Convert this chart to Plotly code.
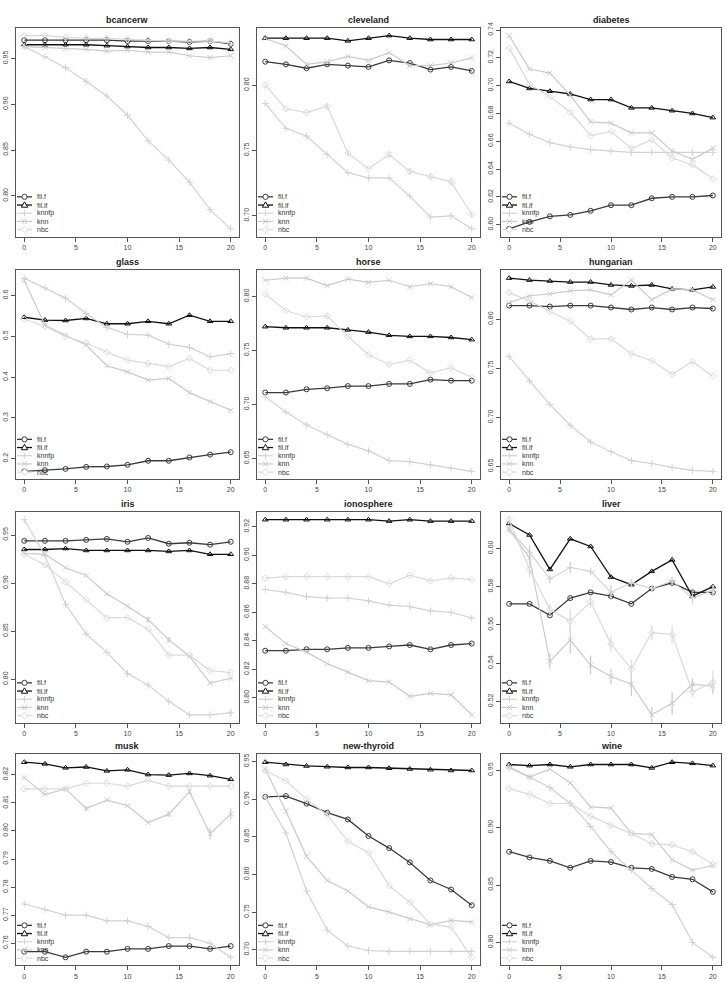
import plotly.graph_objects as go

W, H = 727, 983
x_vals = [0, 2, 4, 6, 8, 10, 12, 14, 16, 18, 20]
x_ticks = [0, 5, 10, 15, 20]
datasets = ["bcancerw", "cleveland", "diabetes", "glass", "horse", "hungarian",
            "iris", "ionosphere", "liver", "musk", "new-thyroid", "wine"]
series_names = ["fil.f", "fil.if", "knnfp", "knn", "nbc"]

fil_f = {
    "bcancerw": [0.970, 0.970, 0.970, 0.970, 0.970, 0.969, 0.969, 0.969, 0.968, 0.969, 0.966],
    "cleveland": [0.818, 0.816, 0.813, 0.816, 0.815, 0.814, 0.819, 0.817, 0.812, 0.814, 0.811],
    "diabetes": [0.597, 0.602, 0.606, 0.607, 0.610, 0.614, 0.614, 0.619, 0.620, 0.620, 0.621],
    "glass": [0.169, 0.172, 0.175, 0.180, 0.181, 0.185, 0.195, 0.195, 0.203, 0.210, 0.216],
    "horse": [0.711, 0.711, 0.714, 0.715, 0.717, 0.717, 0.719, 0.719, 0.723, 0.722, 0.722],
    "hungarian": [0.814, 0.814, 0.813, 0.814, 0.814, 0.812, 0.810, 0.812, 0.810, 0.812, 0.811],
    "iris": [0.944, 0.944, 0.944, 0.945, 0.946, 0.943, 0.947, 0.941, 0.942, 0.940, 0.943],
    "ionosphere": [0.833, 0.833, 0.834, 0.834, 0.835, 0.835, 0.836, 0.837, 0.834, 0.837, 0.838],
    "liver": [0.571, 0.571, 0.565, 0.574, 0.577, 0.575, 0.571, 0.579, 0.582, 0.577, 0.577],
    "musk": [0.757, 0.757, 0.755, 0.757, 0.757, 0.758, 0.758, 0.759, 0.759, 0.758, 0.759],
    "new-thyroid": [0.903, 0.904, 0.894, 0.882, 0.873, 0.851, 0.835, 0.816, 0.792, 0.780, 0.759],
    "wine": [0.879, 0.874, 0.871, 0.865, 0.871, 0.870, 0.865, 0.864, 0.857, 0.855, 0.844],
}
fil_if = {
    "bcancerw": [0.965, 0.965, 0.965, 0.965, 0.964, 0.963, 0.962, 0.962, 0.961, 0.962, 0.960],
    "cleveland": [0.836, 0.836, 0.836, 0.836, 0.834, 0.836, 0.838, 0.836, 0.835, 0.835, 0.835],
    "diabetes": [0.703, 0.698, 0.696, 0.694, 0.690, 0.690, 0.684, 0.684, 0.682, 0.680, 0.677],
    "glass": [0.547, 0.540, 0.539, 0.544, 0.531, 0.531, 0.537, 0.531, 0.552, 0.537, 0.537],
    "horse": [0.772, 0.771, 0.771, 0.771, 0.769, 0.767, 0.764, 0.763, 0.763, 0.762, 0.760],
    "hungarian": [0.842, 0.840, 0.839, 0.838, 0.838, 0.835, 0.834, 0.835, 0.831, 0.830, 0.833],
    "iris": [0.935, 0.935, 0.936, 0.934, 0.934, 0.934, 0.934, 0.933, 0.934, 0.930, 0.930],
    "ionosphere": [0.925, 0.925, 0.925, 0.925, 0.925, 0.925, 0.924, 0.925, 0.924, 0.924, 0.924],
    "liver": [0.613, 0.607, 0.589, 0.605, 0.601, 0.585, 0.581, 0.588, 0.594, 0.575, 0.580],
    "musk": [0.8245, 0.8239, 0.8225, 0.8228, 0.8214, 0.8218, 0.8201, 0.8199, 0.8205, 0.8197, 0.8184],
    "new-thyroid": [0.949, 0.946, 0.944, 0.943, 0.942, 0.942, 0.941, 0.940, 0.939, 0.938, 0.938],
    "wine": [0.955, 0.954, 0.955, 0.953, 0.955, 0.955, 0.955, 0.952, 0.957, 0.956, 0.954],
}
knnfp = {
    "bcancerw": [0.963, 0.952, 0.940, 0.925, 0.909, 0.888, 0.860, 0.839, 0.815, 0.785, 0.764],
    "cleveland": [0.786, 0.767, 0.761, 0.747, 0.733, 0.729, 0.729, 0.715, 0.699, 0.700, 0.690],
    "diabetes": [0.673, 0.665, 0.659, 0.656, 0.654, 0.653, 0.652, 0.652, 0.652, 0.652, 0.652],
    "glass": [0.643, 0.619, 0.594, 0.556, 0.522, 0.505, 0.503, 0.481, 0.473, 0.450, 0.458],
    "horse": [0.707, 0.693, 0.681, 0.672, 0.663, 0.657, 0.648, 0.647, 0.644, 0.641, 0.638],
    "hungarian": [0.762, 0.737, 0.713, 0.692, 0.675, 0.665, 0.656, 0.653, 0.649, 0.646, 0.645],
    "iris": [0.966, 0.929, 0.878, 0.847, 0.828, 0.806, 0.794, 0.777, 0.763, 0.763, 0.765],
    "ionosphere": [0.876, 0.874, 0.871, 0.870, 0.870, 0.868, 0.865, 0.864, 0.861, 0.860, 0.856],
    "liver": [0.610, 0.598, 0.584, 0.590, 0.588, 0.577, 0.582, 0.579, 0.583, 0.574, 0.578],
    "musk": [0.774, 0.772, 0.770, 0.770, 0.768, 0.768, 0.766, 0.762, 0.762, 0.760, 0.755],
    "new-thyroid": [0.903, 0.855, 0.778, 0.726, 0.705, 0.699, 0.698, 0.698, 0.698, 0.698, 0.698],
    "wine": [0.952, 0.944, 0.935, 0.921, 0.901, 0.879, 0.863, 0.847, 0.833, 0.800, 0.787],
}
knn = {
    "bcancerw": [0.963, 0.962, 0.961, 0.960, 0.958, 0.959, 0.957, 0.957, 0.953, 0.951, 0.953],
    "cleveland": [0.836, 0.830, 0.816, 0.818, 0.822, 0.819, 0.825, 0.815, 0.815, 0.817, 0.821],
    "diabetes": [0.736, 0.712, 0.709, 0.693, 0.674, 0.673, 0.666, 0.666, 0.653, 0.647, 0.655],
    "glass": [0.637, 0.528, 0.502, 0.479, 0.428, 0.413, 0.393, 0.397, 0.362, 0.340, 0.319],
    "horse": [0.815, 0.817, 0.817, 0.810, 0.816, 0.813, 0.815, 0.809, 0.812, 0.809, 0.799],
    "hungarian": [0.817, 0.824, 0.826, 0.829, 0.830, 0.825, 0.840, 0.820, 0.831, 0.830, 0.820],
    "iris": [0.931, 0.930, 0.916, 0.908, 0.889, 0.876, 0.862, 0.841, 0.824, 0.796, 0.801],
    "ionosphere": [0.850, 0.838, 0.832, 0.824, 0.818, 0.812, 0.811, 0.801, 0.803, 0.802, 0.788],
    "liver": [0.610, 0.595, 0.541, 0.552, 0.539, 0.533, 0.529, 0.513, 0.519, 0.529, 0.528],
    "musk": [0.819, 0.813, 0.815, 0.808, 0.811, 0.809, 0.803, 0.806, 0.814, 0.799, 0.806],
    "new-thyroid": [0.940, 0.884, 0.824, 0.792, 0.778, 0.757, 0.750, 0.741, 0.733, 0.739, 0.737],
    "wine": [0.953, 0.944, 0.951, 0.939, 0.918, 0.917, 0.895, 0.894, 0.872, 0.863, 0.867],
}
nbc = {
    "bcancerw": [0.975, 0.975, 0.973, 0.972, 0.972, 0.971, 0.970, 0.969, 0.969, 0.969, 0.967],
    "cleveland": [0.800, 0.782, 0.779, 0.784, 0.748, 0.736, 0.747, 0.734, 0.730, 0.726, 0.701],
    "diabetes": [0.727, 0.701, 0.692, 0.681, 0.664, 0.667, 0.655, 0.661, 0.648, 0.643, 0.633],
    "glass": [0.542, 0.525, 0.500, 0.484, 0.461, 0.442, 0.434, 0.426, 0.446, 0.417, 0.417],
    "horse": [0.802, 0.787, 0.781, 0.782, 0.763, 0.746, 0.737, 0.741, 0.729, 0.734, 0.725],
    "hungarian": [0.827, 0.819, 0.808, 0.798, 0.780, 0.780, 0.765, 0.758, 0.744, 0.757, 0.742],
    "iris": [0.930, 0.919, 0.901, 0.883, 0.864, 0.864, 0.852, 0.825, 0.825, 0.809, 0.807],
    "ionosphere": [0.884, 0.885, 0.885, 0.885, 0.885, 0.885, 0.880, 0.886, 0.882, 0.884, 0.883],
    "liver": [0.615, 0.589, 0.568, 0.562, 0.572, 0.550, 0.537, 0.556, 0.555, 0.525, 0.530],
    "musk": [0.815, 0.815, 0.815, 0.817, 0.817, 0.816, 0.818, 0.816, 0.816, 0.816, 0.816],
    "new-thyroid": [0.938, 0.924, 0.900, 0.879, 0.844, 0.829, 0.785, 0.763, 0.734, 0.730, 0.690],
    "wine": [0.934, 0.929, 0.921, 0.921, 0.910, 0.902, 0.895, 0.886, 0.885, 0.879, 0.868],
}
# visible standard-error whiskers
knn_err = {
    "liver": [0.002, 0.005, 0.004, 0.007, 0.005, 0.004, 0.006, 0.004, 0.006, 0.003, 0.004],
    "iris": [0.0, 0.0, 0.0, 0.0, 0.0, 0.0, 0.003, 0.003, 0.0, 0.0, 0.0],
    "musk": [0.0, 0.0, 0.0, 0.001, 0.0, 0.0, 0.0, 0.001, 0.001, 0.002, 0.002],
}
nbc_err = {
    "liver": [0.002, 0.004, 0.003, 0.006, 0.003, 0.004, 0.005, 0.004, 0.005, 0.003, 0.006],
    "cleveland": [0.0, 0.0, 0.0, 0.002, 0.002, 0.0, 0.002, 0.003, 0.003, 0.003, 0.002],
}
knnfp_err = {
    "liver": [0.0, 0.004, 0.002, 0.003, 0.002, 0.004, 0.002, 0.002, 0.002, 0.003, 0.003],
    "iris": [0.0, 0.0, 0.0, 0.0, 0.0, 0.003, 0.0, 0.0, 0.0, 0.0, 0.004],
}
y_dtick = {"bcancerw": 0.05, "cleveland": 0.05, "diabetes": 0.02, "glass": 0.1,
           "horse": 0.05, "hungarian": 0.05, "iris": 0.05, "ionosphere": 0.02,
           "liver": 0.02, "musk": 0.01, "new-thyroid": 0.05, "wine": 0.05}

col_px = [(16, 239), (257, 480), (501, 721)]
row_px = [(22, 232), (266, 476), (509, 721), (753, 965)]

styles = {
    "fil.f": dict(color="#3a3a3a", symbol="circle-open", width=1.3),
    "fil.if": dict(color="#111111", symbol="triangle-up-open", width=1.3),
    "knnfp": dict(color="#d2d2d2", symbol="cross-thin-open", width=1.2),
    "knn": dict(color="#cacaca", symbol="x-thin-open", width=1.2),
    "nbc": dict(color="#dadada", symbol="diamond-open", width=1.2),
}
series_data = {"fil.f": fil_f, "fil.if": fil_if, "knnfp": knnfp, "knn": knn, "nbc": nbc}
series_err = {"knnfp": knnfp_err, "knn": knn_err, "nbc": nbc_err}

FONT = "Liberation Sans, Arial, Helvetica, sans-serif"
fig = go.Figure()
layout = dict(width=W, height=H, margin=dict(l=0, r=0, t=0, b=0),
              paper_bgcolor="white", plot_bgcolor="white", showlegend=False,
              font=dict(family=FONT, color="#333"))
annotations = []
shapes = []


def px(xp):
    return xp / W


def py(yp):
    return 1 - yp / H


def legend_symbol(sym, cx, cy, color):
    r = 2.6
    line = dict(color=color, width=1)
    if sym == "circle-open":
        return [dict(type="circle", xref="paper", yref="paper", x0=px(cx - r), x1=px(cx + r),
                     y0=py(cy + r), y1=py(cy - r), line=line, fillcolor="white")]
    if sym == "triangle-up-open":
        path = "M %f,%f L %f,%f L %f,%f Z" % (px(cx), py(cy - 3.2), px(cx + 3.2), py(cy + 2.2),
                                              px(cx - 3.2), py(cy + 2.2))
        return [dict(type="path", xref="paper", yref="paper", path=path, line=line,
                     fillcolor="white")]
    if sym == "cross-thin-open":
        return [dict(type="line", xref="paper", yref="paper", x0=px(cx), x1=px(cx),
                     y0=py(cy - 3), y1=py(cy + 3), line=line)]
    if sym == "x-thin-open":
        return [dict(type="line", xref="paper", yref="paper", x0=px(cx - 2.5), x1=px(cx + 2.5),
                     y0=py(cy - 2.5), y1=py(cy + 2.5), line=line),
                dict(type="line", xref="paper", yref="paper", x0=px(cx - 2.5), x1=px(cx + 2.5),
                     y0=py(cy + 2.5), y1=py(cy - 2.5), line=line)]
    path = "M %f,%f L %f,%f L %f,%f L %f,%f Z" % (px(cx), py(cy - 3.3), px(cx + 3.3), py(cy),
                                                  px(cx), py(cy + 3.3), px(cx - 3.3), py(cy))
    return [dict(type="path", xref="paper", yref="paper", path=path, line=line,
                 fillcolor="white")]


for i, name in enumerate(datasets):
    r, c = divmod(i, 3)
    x0, x1 = col_px[c]
    y0, y1 = row_px[r]
    k = "" if i == 0 else str(i + 1)
    xa, ya = "x" + k, "y" + k
    allv = []
    for s in series_names:
        allv += series_data[s][name]
    lo, hi = min(allv), max(allv)
    pad = (hi - lo) * 0.04
    for s in series_names:
        st = styles[s]
        err = series_err.get(s, {}).get(name)
        tr = go.Scatter(
            x=x_vals, y=series_data[s][name], mode="lines+markers", name=s,
            xaxis=xa, yaxis=ya,
            line=dict(color=st["color"], width=st["width"]),
            marker=dict(symbol=st["symbol"], size=5, color=st["color"],
                        line=dict(width=1, color=st["color"])),
        )
        if err is not None:
            tr.error_y = dict(type="data", array=err, visible=True, width=0,
                              color=st["color"], thickness=1.2)
        fig.add_trace(tr)
    layout["xaxis" + k] = dict(
        domain=[x0 / W, x1 / W], anchor=ya, range=[-0.8, 20.8],
        tickmode="array", tickvals=x_ticks, ticks="outside", ticklen=4,
        tickcolor="#555", tickfont=dict(size=7, color="#444"),
        showline=True, linecolor="#555", linewidth=1, mirror=True,
        showgrid=False, zeroline=False)
    fmt = ".1f" if name == "glass" else ".2f"
    layout["yaxis" + k] = dict(
        domain=[1 - y1 / H, 1 - y0 / H], anchor=xa, range=[lo - pad, hi + pad],
        dtick=y_dtick[name], tick0=0, tickformat=fmt, ticks="outside", ticklen=4,
        tickcolor="#555", tickangle=-90, tickfont=dict(size=7, color="#444"),
        showline=True, linecolor="#555", linewidth=1, mirror=True,
        showgrid=False, zeroline=False)
    # legend drawn in the lower-left corner of each panel
    for j, s in enumerate(series_names):
        st = styles[s]
        ly = y1 - 7 - (4 - j) * 8.25
        shapes.append(dict(type="line", xref="paper", yref="paper",
                           x0=px(x0 + 1), x1=px(x0 + 16), y0=py(ly), y1=py(ly),
                           line=dict(color=st["color"], width=st["width"])))
        shapes += legend_symbol(st["symbol"], x0 + 8.5, ly, st["color"])
        annotations.append(dict(text=s, x=px(x0 + 19), y=py(ly), xref="paper", yref="paper",
                                showarrow=False, xanchor="left", yanchor="middle",
                                font=dict(size=7, color="#333", family=FONT)))
    annotations.append(dict(
        text="<b>" + name + "</b>", x=(x0 + x1) / 2 / W, y=1 - (y0 - 8) / H,
        xref="paper", yref="paper", showarrow=False, xanchor="center",
        yanchor="middle", font=dict(size=9, color="#222", family=FONT)))

layout["annotations"] = annotations
layout["shapes"] = shapes
fig.update_layout(**layout)
fig.write_html("out.html")
